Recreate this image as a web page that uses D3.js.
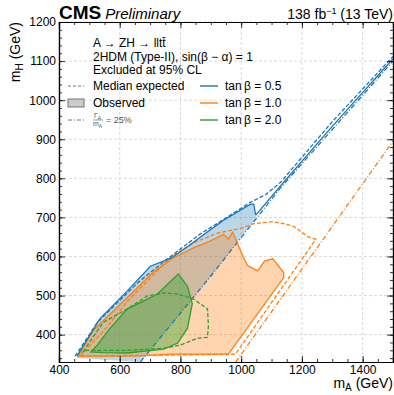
<!DOCTYPE html>
<html>
<head>
<meta charset="utf-8">
<script src="https://cdn.jsdelivr.net/npm/d3@7"></script>
<style>
  body { margin: 0; background: #fff; }
  text { font-family: "Liberation Sans", Arial, sans-serif; fill: #000; }
</style>
</head>
<body>
<div id="chart"></div>
<script>
// contour points, [mA, mH] in GeV
const blueObs = [[459,345],[535,441],[625,512],[701,575],[767,595],[823,625],[866,650],[942,693],[1031,734],[1041,734],[1048,706]];
const blueObsTail = [[1048,706],[1140,790],[1300,933],[1500,1106]];
const blueExp = [[453,345],[526,431],[658,532],[767,600],[866,658],[955,701],[1031,739],[1080,758],[1130,790],[1300,945],[1500,1112]];
const blueWidth = [[668,330],[900,550],[1130,776],[1300,925],[1500,1100]];

const orangeObs = [[463,345],[512,410],[625,495],[711,560],[773,595],[843,622],[899,640],[942,657],[958,645],[972,662],[1008,597],[1021,577],[1054,563],[1077,588],[1104,594],[1140,559],[1140,546],[958,350],[770,350],[650,345]];
const orangeExp = [[469,345],[559,420],[625,485],[767,598],[843,635],[922,660],[998,672],[1041,684],[1104,689],[1140,684],[1173,677],[1219,651],[1246,644],[981,350]];
const orangeWidth = [[982,330],[1500,895]];

const greenObs = [[793,555],[724,504],[691,491],[625,466],[568,416],[526,373],[505,356],[545,354],[625,353],[744,363],[790,378],[823,416],[833,456],[839,479],[823,524]];
const greenExp = [[479,356],[545,431],[625,466],[691,499],[744,507],[790,504],[843,491],[889,466],[892,423],[889,393],[856,391],[800,373],[744,365],[625,360],[492,360]];

const tanBetaLabels = ["tan\u2009\u03b2 = 0.5", "tan\u2009\u03b2 = 1.0", "tan\u2009\u03b2 = 2.0"];
const colors = ["#1f77b4", "#ff7f0e", "#2ca02c"];
const xTicks = [400, 600, 800, 1000, 1200, 1400];
const yTicks = [400, 500, 600, 700, 800, 900, 1000, 1100, 1200];

const W = 394, H = 395;
const margin = { top: 22, right: 1, bottom: 33, left: 59 };
const width = W - margin.left - margin.right;
const height = H - margin.top - margin.bottom;

const svg = d3.select("#chart").append("svg")
    .attr("width", W).attr("height", H);

const g = svg.append("g")
    .attr("transform", `translate(${margin.left},${margin.top})`);

const x = d3.scaleLinear().domain([400, 1500]).range([0, width]);
const y = d3.scaleLinear().domain([330, 1200]).range([height, 0]);

g.append("clipPath").attr("id", "clip")
    .append("rect").attr("width", width).attr("height", height);

// grid
g.append("g").selectAll("line").data(xTicks).join("line")
    .attr("x1", d => x(d)).attr("x2", d => x(d))
    .attr("y1", 0).attr("y2", height)
    .attr("stroke", "#d0d0d0").attr("stroke-width", 0.8).attr("stroke-dasharray", "3,2");
g.append("g").selectAll("line").data(yTicks).join("line")
    .attr("x1", 0).attr("x2", width)
    .attr("y1", d => y(d)).attr("y2", d => y(d))
    .attr("stroke", "#d0d0d0").attr("stroke-width", 0.8).attr("stroke-dasharray", "3,2");

const line = d3.line().x(d => x(d[0])).y(d => y(d[1]));
const plot = g.append("g").attr("clip-path", "url(#clip)");

// fills: blue first, orange over it, green on top
const blueLower = blueWidth.filter(d => d[0] < 1048).slice().reverse();
plot.append("path").attr("d", line(blueObs.concat([[1048, 698]], blueLower, [[459, 340]])) + "Z")
    .attr("fill", colors[0]).attr("fill-opacity", 0.3);

plot.append("path").attr("d", line(orangeObs) + "Z")
    .attr("fill", colors[1]).attr("fill-opacity", 0.33);

plot.append("path").attr("d", line(greenObs) + "Z")
    .attr("fill", colors[2]).attr("fill-opacity", 0.4);

// lines
function stroke(data, color, dash, closed) {
    plot.append("path")
        .attr("d", line(data) + (closed ? "Z" : ""))
        .attr("fill", "none")
        .attr("stroke", color)
        .attr("stroke-width", 1.3)
        .attr("stroke-dasharray", dash);
}
stroke(blueWidth, colors[0], "5,2,1,2", false);
stroke(orangeWidth, colors[1], "5,2,1,2", false);

stroke(orangeObs, colors[1], null, true);
stroke(orangeExp, colors[1], "4,2", true);
stroke(blueObs, colors[0], null, false);
stroke(blueObsTail, colors[0], null, false);
stroke(blueExp, colors[0], "4,2", false);
stroke(greenObs, colors[2], null, true);
stroke(greenExp, colors[2], "4,2", true);

// axes with inward ticks
function inner(axis, size) { return axis.tickSize(size).tickPadding(3); }
const xMinor = d3.range(400, 1501, 50);
const yMinor = d3.range(340, 1201, 20);

g.append("g").attr("transform", `translate(0,${height})`)
    .call(inner(d3.axisBottom(x).tickValues(xMinor).tickFormat(""), -3));
g.append("g").attr("transform", `translate(0,${height})`)
    .call(inner(d3.axisBottom(x).tickValues(xTicks).tickFormat(d3.format("d")), -6));
g.append("g")
    .call(inner(d3.axisTop(x).tickValues(xMinor).tickFormat(""), -3));
g.append("g")
    .call(inner(d3.axisTop(x).tickValues(xTicks).tickFormat(""), -6));
g.append("g")
    .call(inner(d3.axisLeft(y).tickValues(yMinor).tickFormat(""), -3));
g.append("g")
    .call(inner(d3.axisLeft(y).tickValues(yTicks).tickFormat(d3.format("d")), -6));
g.append("g").attr("transform", `translate(${width},0)`)
    .call(inner(d3.axisRight(y).tickValues(yMinor).tickFormat(""), -3));
g.append("g").attr("transform", `translate(${width},0)`)
    .call(inner(d3.axisRight(y).tickValues(yTicks).tickFormat(""), -6));

g.selectAll(".domain").attr("stroke", "#000").attr("stroke-width", 1.2);
g.selectAll(".tick line").attr("stroke", "#000").attr("stroke-width", 0.8);
g.selectAll(".tick text").style("font-size", "12px")
    .style("font-family", "'Liberation Sans', Arial, sans-serif");

// axis titles
const xt = svg.append("text").attr("x", W - 1).attr("y", 388)
    .attr("text-anchor", "end").style("font-size", "14px");
xt.append("tspan").text("m");
xt.append("tspan").attr("dy", 2.5).style("font-size", "10px").text("A");
xt.append("tspan").attr("dy", -2.5).text(" (GeV)");

const yt = svg.append("text")
    .attr("transform", `translate(20,${margin.top}) rotate(-90)`)
    .attr("text-anchor", "end").style("font-size", "14px");
yt.append("tspan").text("m");
yt.append("tspan").attr("dy", 3).style("font-size", "10px").text("H");
yt.append("tspan").attr("dy", -3).text(" (GeV)");

// header
const head = svg.append("text").attr("x", margin.left).attr("y", 19);
head.append("tspan").style("font-size", "19px").style("font-weight", "bold").text("CMS");
head.append("tspan").attr("dx", 4).style("font-size", "15px").style("font-style", "italic").text("Preliminary");

const lumi = svg.append("text").attr("x", W - 1).attr("y", 19)
    .attr("text-anchor", "end").style("font-size", "14px");
lumi.append("tspan").text("138 fb");
lumi.append("tspan").attr("dy", -5).style("font-size", "9px").text("\u22121");
lumi.append("tspan").attr("dy", 5).text(" (13 TeV)");

// info text
const info = ["A \u2192 ZH \u2192 lltt\u0304", "2HDM (Type-II), sin(\u03b2 \u2212 \u03b1) = 1", "Excluded at 95% CL"];
svg.append("g").selectAll("text").data(info).join("text")
    .attr("x", 93).attr("y", (d, i) => 47 + i * 13.5)
    .style("font-size", "12px").text(d => d);

// legend left
const legY = [86, 103, 120];
svg.append("line").attr("x1", 68).attr("x2", 84).attr("y1", legY[0]).attr("y2", legY[0])
    .attr("stroke", "#777").attr("stroke-width", 1).attr("stroke-dasharray", "3,2");
svg.append("rect").attr("x", 68).attr("y", legY[1] - 4).attr("width", 16).attr("height", 8)
    .attr("fill", "#ccc").attr("stroke", "#777").attr("stroke-width", 1);
svg.append("line").attr("x1", 68).attr("x2", 84).attr("y1", legY[2]).attr("y2", legY[2])
    .attr("stroke", "#777").attr("stroke-width", 1).attr("stroke-dasharray", "4,2,1,2");
svg.append("text").attr("x", 93).attr("y", legY[0] + 4).style("font-size", "12px").text("Median expected");
svg.append("text").attr("x", 93).attr("y", legY[1] + 4).style("font-size", "12px").text("Observed");

const frac = svg.append("g");
const num = frac.append("text").attr("x", 94).attr("y", legY[2] - 2).style("font-size", "7px").style("fill", "#555");
num.append("tspan").text("\u0393");
num.append("tspan").attr("dy", 1.5).style("font-size", "5px").text("A");
frac.append("line").attr("x1", 93).attr("x2", 103).attr("y1", legY[2]).attr("y2", legY[2])
    .attr("stroke", "#555").attr("stroke-width", 0.6);
const den = frac.append("text").attr("x", 93).attr("y", legY[2] + 6).style("font-size", "7px").style("fill", "#555");
den.append("tspan").text("m");
den.append("tspan").attr("dy", 1.5).style("font-size", "5px").text("A");
svg.append("text").attr("x", 106).attr("y", legY[2] + 3).style("font-size", "9px").style("fill", "#555").text("= 25%");

// legend right
const legR = svg.append("g").selectAll("g").data(tanBetaLabels).join("g")
    .attr("transform", (d, i) => `translate(200,${legY[i]})`);
legR.append("line").attr("x1", 0).attr("x2", 18)
    .attr("stroke", (d, i) => colors[i]).attr("stroke-width", 1.4);
legR.append("text").attr("x", 25).attr("y", 4).style("font-size", "12px").text(d => d);
</script>
</body>
</html>
